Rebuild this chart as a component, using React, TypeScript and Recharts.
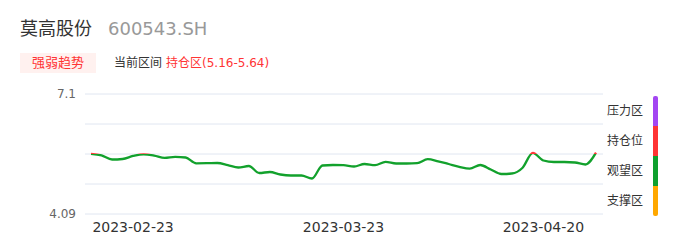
import React from 'react';
import { LineChart, Line, XAxis, YAxis, CartesianGrid } from 'recharts';

const dates = [
  '2023-02-17', '2023-02-20', '2023-02-21', '2023-02-22', '2023-02-23', '2023-02-24', '2023-02-27', '2023-02-28',
  '2023-03-01', '2023-03-02', '2023-03-03', '2023-03-06', '2023-03-07', '2023-03-08', '2023-03-09', '2023-03-10',
  '2023-03-13', '2023-03-14', '2023-03-15', '2023-03-16', '2023-03-17', '2023-03-20', '2023-03-21', '2023-03-22',
  '2023-03-23', '2023-03-24', '2023-03-27', '2023-03-28', '2023-03-29', '2023-03-30', '2023-03-31', '2023-04-03',
  '2023-04-04', '2023-04-06', '2023-04-07', '2023-04-10', '2023-04-11', '2023-04-12', '2023-04-13', '2023-04-14',
  '2023-04-17', '2023-04-18', '2023-04-19', '2023-04-20', '2023-04-21', '2023-04-24', '2023-04-25', '2023-04-26',
  '2023-04-27',
];

const prices = [
  5.60, 5.562, 5.457, 5.47, 5.545, 5.588, 5.557, 5.50,
  5.525, 5.507, 5.362, 5.364, 5.369, 5.319, 5.256, 5.294,
  5.118, 5.144, 5.081, 5.056, 5.056, 4.98, 5.307, 5.319,
  5.314, 5.282, 5.344, 5.314, 5.399, 5.357, 5.357, 5.364,
  5.465, 5.412, 5.344, 5.274, 5.229, 5.319, 5.206, 5.093,
  5.106, 5.244, 5.625, 5.432, 5.394, 5.394, 5.382, 5.332,
  5.628,
];

const xTickLabels = ['2023-02-23', '2023-03-23', '2023-04-20'];
const yTicks = [4.09, 4.8425, 5.595, 6.3475, 7.1];
const yLabelTicks = [4.09, 7.1];
const holdThreshold = 5.595;

const zoneNames = ['压力区', '持仓位', '观望区', '支撑区'];
const zoneColors = ['#a346f2', '#ff3434', '#0ea02e', '#ffa800'];

const title = '莫高股份';
const code = '600543.SH';
const badge = '强弱趋势';
const rangeLabel = '当前区间';
const rangeValue = '持仓区(5.16-5.64)';

const FONT = "'DejaVu Sans', 'Noto Sans CJK SC', sans-serif";
const GREEN = '#12a12c';
const RED = '#ff3838';

const data = dates.map((d, i) => ({ date: d, price: prices[i] }));
const maxP = Math.max(...prices);
const minP = Math.min(...prices);
const splitOffset = (maxP - holdThreshold) / (maxP - minP);

export default function App() {
  return (
    <div style={{ position: 'fixed', left: 0, top: 0, width: 686, height: 247, background: '#fff', fontFamily: FONT }}>
      <div style={{ position: 'absolute', left: 20, top: 17, fontSize: 18, color: '#333', whiteSpace: 'nowrap', lineHeight: '24px' }}>
        {title}
        <span style={{ color: '#999', marginLeft: 16 }}>{code}</span>
      </div>
      <div style={{ position: 'absolute', left: 20, top: 53, width: 76, height: 20, background: '#fff1ef', color: '#ff3434', fontSize: 13, lineHeight: '20px', textAlign: 'center' }}>
        {badge}
      </div>
      <div style={{ position: 'absolute', left: 114, top: 53, fontSize: 12, lineHeight: '20px', color: '#333', whiteSpace: 'nowrap' }}>
        {rangeLabel}
        <span style={{ color: '#ff3434', marginLeft: 4 }}>{rangeValue}</span>
      </div>

      <div style={{ position: 'absolute', left: 0, top: 0 }}>
        <LineChart width={686} height={247} data={data} margin={{ top: 94, right: 83, bottom: 0, left: 0 }}>
          <defs>
            <linearGradient id="lineGrad" x1="0" y1="0" x2="0" y2="1">
              <stop offset={0} stopColor={RED} />
              <stop offset={splitOffset} stopColor={RED} />
              <stop offset={splitOffset} stopColor={GREEN} />
              <stop offset={1} stopColor={GREEN} />
            </linearGradient>
          </defs>
          <CartesianGrid vertical={false} stroke="#e0e6f1" />
          <XAxis
            dataKey="date"
            ticks={xTickLabels}
            interval={0}
            axisLine={false}
            tickLine={false}
            height={33}
            padding={{ left: 6, right: 7 }}
            tick={{ fill: '#333', fontSize: 14, fontFamily: FONT }}
          />
          <YAxis
            domain={[4.09, 7.1]}
            ticks={yTicks}
            width={85}
            axisLine={false}
            tickLine={false}
            tickMargin={3}
            tickFormatter={(v: number) => (yLabelTicks.includes(v) ? String(v) : '')}
            tick={{ fill: '#666', fontSize: 12, fontFamily: FONT }}
          />
          <Line
            type="monotone"
            dataKey="price"
            stroke="url(#lineGrad)"
            strokeWidth={2.3}
            dot={false}
            isAnimationActive={false}
          />
        </LineChart>
      </div>

      {zoneNames.map((z, i) => (
        <div key={z} style={{ position: 'absolute', left: 607, top: 101 + i * 30, fontSize: 12, lineHeight: '20px', color: '#333', whiteSpace: 'nowrap' }}>
          {z}
        </div>
      ))}
      {zoneColors.map((c, i) => (
        <div
          key={c}
          style={{
            position: 'absolute',
            left: 653,
            top: 96 + i * 30,
            width: 5,
            height: 30,
            background: c,
            borderTopLeftRadius: i === 0 ? 2 : 0,
            borderTopRightRadius: i === 0 ? 2 : 0,
            borderBottomLeftRadius: i === 3 ? 2 : 0,
            borderBottomRightRadius: i === 3 ? 2 : 0,
          }}
        />
      ))}
    </div>
  );
}
